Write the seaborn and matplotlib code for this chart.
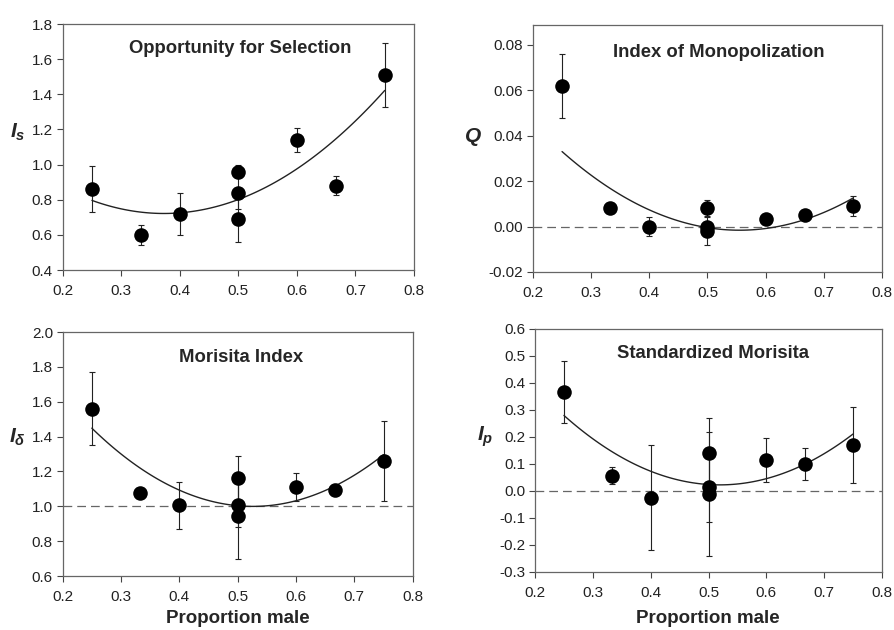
import numpy as np
import pandas as pd
import matplotlib
matplotlib.use("Agg")
import matplotlib.pyplot as plt
import seaborn as sns

# proportion male for each group
prop_male = [0.25, 0.333, 0.4, 0.5, 0.5, 0.5, 0.6, 0.667, 0.75]

# opportunity for selection (I_s) and SE
is_vals = [0.86, 0.60, 0.72, 0.96, 0.84, 0.69, 1.14, 0.88, 1.51]
is_err = [0.13, 0.055, 0.12, 0.035, 0.09, 0.13, 0.07, 0.055, 0.18]

# index of monopolization (Q) and SE
q_vals = [0.062, 0.008, 0.000, 0.008, 0.000, -0.002, 0.0035, 0.005, 0.009]
q_err = [0.014, 0.001, 0.004, 0.0035, 0.001, 0.006, 0.001, 0.001, 0.0045]

# fitted curve for Q as printed
q_fit_x = [0.25, 0.30, 0.35, 0.40, 0.45, 0.50, 0.55, 0.60, 0.65, 0.70, 0.75]
q_fit_y = [0.034, 0.0215, 0.0135, 0.0075, 0.0028, 0.0000, -0.0014,
           -0.0009, 0.0016, 0.0058, 0.0128]

# Morisita index (I_delta) and SE
mi_vals = [1.56, 1.075, 1.005, 1.16, 1.005, 0.945, 1.11, 1.095, 1.26]
mi_err = [0.21, 0.03, 0.135, 0.13, 0.125, 0.245, 0.08, 0.035, 0.23]

# standardized Morisita (I_p) and SE
sm_vals = [0.365, 0.057, -0.025, 0.14, 0.015, -0.01, 0.115, 0.10, 0.17]
sm_err = [0.115, 0.03, 0.195, 0.13, 0.13, 0.23, 0.08, 0.06, 0.14]

sns.set_theme(style="ticks")
plt.rcParams["font.family"] = ["Liberation Sans", "DejaVu Sans"]
plt.rcParams["mathtext.fontset"] = "custom"
plt.rcParams["mathtext.it"] = "Liberation Sans:bold:italic"
plt.rcParams["mathtext.rm"] = "Liberation Sans:bold"

fig = plt.figure(figsize=(8.95, 6.3), dpi=100)

panels = [
    # vals, err, title, ylabel, ylim, yticks, fmt, ref line, axes rect, title pos, ylabel pos, fit
    (is_vals, is_err, "Opportunity for Selection", r"$I_s$", (0.4, 1.8),
     np.arange(0.4, 1.81, 0.2), "{:.1f}", None,
     [0.070, 0.5714, 0.3926, 0.3905], (0.505, 0.90), (-0.128, 0.56), None),
    (q_vals, q_err, "Index of Monopolization", r"$Q$", (-0.02, 0.0888),
     np.arange(-0.02, 0.081, 0.02), "{:.2f}", 0.0,
     [0.5955, 0.5683, 0.3900, 0.3920], (0.533, 0.887), (-0.172, 0.547),
     (q_fit_x, q_fit_y)),
    (mi_vals, mi_err, "Morisita Index", r"$I_\delta$", (0.6, 2.0),
     np.arange(0.6, 2.01, 0.2), "{:.1f}", 1.0,
     [0.070, 0.0857, 0.3911, 0.3873], (0.509, 0.897), (-0.129, 0.57), None),
    (sm_vals, sm_err, "Standardized Morisita", r"$I_p$", (-0.3, 0.6),
     np.arange(-0.3, 0.61, 0.1), "{:.1f}", 0.0,
     [0.5978, 0.0921, 0.3877, 0.3857], (0.513, 0.90), (-0.144, 0.556), None),
]

xlabel_centers = {2: 238 / 895, 3: 708 / 895}

for i, (vals, err, title, ylab, ylim, yticks, fmt, ref, rect, tpos, lpos, fit) in enumerate(panels):
    ax = fig.add_axes(rect)
    df = pd.DataFrame({"x": prop_male, "y": vals, "e": err})

    if ref is not None:
        ax.axhline(ref, color="#666666", lw=0.9, ls=(0, (7, 4)), zorder=1)

    ax.errorbar(df["x"], df["y"], yerr=df["e"], fmt="none", ecolor="#222222",
                elinewidth=0.8, capsize=2.5, capthick=0.8, zorder=2)
    # quadratic fit line; for Q the printed curve is smoothed from read points
    fx, fy = (df["x"], df["y"]) if fit is None else fit
    sns.regplot(x=fx, y=fy, order=2, ci=None, scatter=False,
                truncate=True, ax=ax,
                line_kws={"color": "#222222", "lw": 1.0, "zorder": 3})
    sns.scatterplot(data=df, x="x", y="y", color="black", s=110,
                    edgecolor="black", linewidth=0, ax=ax, zorder=4)

    ax.set_xlim(0.2, 0.8)
    ax.set_ylim(*ylim)
    ax.set_xticks(np.arange(0.2, 0.81, 0.1))
    ax.set_xticklabels([f"{t:.1f}" for t in np.arange(0.2, 0.81, 0.1)])
    ax.set_yticks(yticks)
    ax.set_yticklabels([fmt.format(t) if abs(t) > 1e-9 else fmt.format(0.0) for t in yticks])
    ax.tick_params(labelsize=11, length=4, width=0.8, color="#444444",
                   labelcolor="#222222", pad=3)
    ax.tick_params(axis="x", pad=6)
    for sp in ax.spines.values():
        sp.set_visible(True)
        sp.set_color("#666666")
        sp.set_linewidth(0.9)

    ax.set_xlabel("")
    ax.set_ylabel("")
    if i >= 2:
        fig.text(xlabel_centers[i], 0.004, "Proportion male", fontsize=13.5,
                 fontweight="bold", ha="center", va="bottom")
    ax.text(lpos[0], lpos[1], ylab, transform=ax.transAxes, fontsize=15,
            ha="center", va="center")
    ax.text(tpos[0], tpos[1], title, transform=ax.transAxes, fontsize=13.3,
            fontweight="bold", ha="center", va="center")

fig.savefig("out.png", dpi=100)
